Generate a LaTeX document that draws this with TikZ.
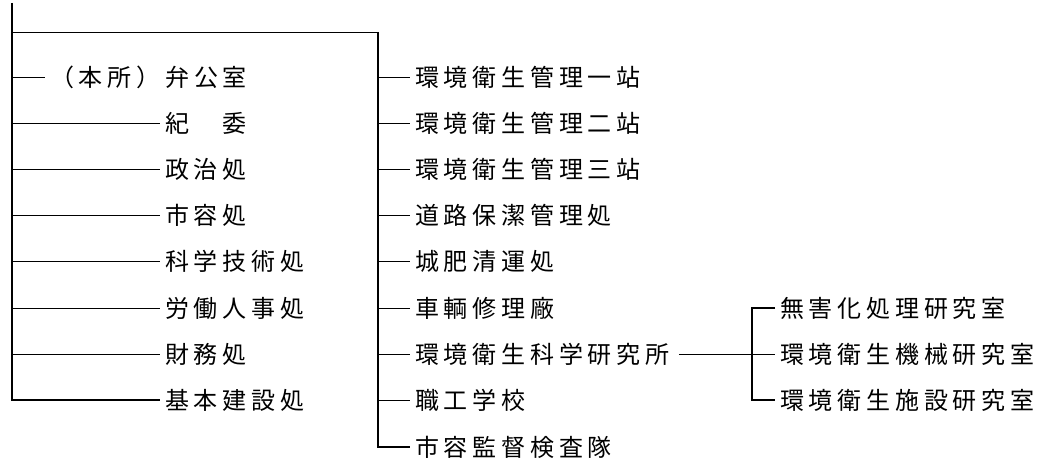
\documentclass[tikz,border=0pt]{standalone}
\usepackage{fontspec}
\newfontfamily\jpfont[LetterSpace=20]{Noto Sans CJK JP}
\usetikzlibrary{positioning}

\begin{document}
\begin{tikzpicture}[
  x=1pt,y=-1pt,
  unit/.style={anchor=west,inner xsep=5pt,inner ysep=0pt,font=\jpfont\fontsize{24}{27}\selectfont},
  bus/.style={line width=1.3pt},
  tick/.style={line width=0.7pt}
]
\useasboundingbox (0,0) rectangle (1054,465);

% bus corners
\coordinate (ltop) at (12,3);
\coordinate (mtop) at (378,32);

% left column
\node[unit] (bangong) at (45,77)  {（本所）弁公室};
\node[unit] (jiwei)   at (160,123) {紀　委};
\node[unit] (zhengzhi) at (160,169) {政治処};
\node[unit] (shirong) at (160,215) {市容処};
\node[unit] (keji)    at (160,261) {科学技術処};
\node[unit] (laodong) at (160,308) {労働人事処};
\node[unit] (caiwu)   at (160,354) {財務処};
\node[unit] (jiben)   at (160,400) {基本建設処};

% middle column
\node[unit] (zhan1)   at (410,77)  {環境衛生管理一站};
\node[unit] (zhan2)   at (410,123) {環境衛生管理二站};
\node[unit] (zhan3)   at (410,169) {環境衛生管理三站};
\node[unit] (daolu)   at (410,215) {道路保潔管理処};
\node[unit] (chengfei) at (410,261) {城肥清運処};
\node[unit] (cheliang) at (410,308) {車輌修理廠};
\node[unit] (kexue)   at (410,354) {環境衛生科学研究所};
\node[unit] (zhigong) at (410,400) {職工学校};
\node[unit] (jiancha) at (410,447) {市容監督検査隊};

% right column
\node[unit] (wuhai)   at (775,308) {無害化処理研究室};
\node[unit] (jixie)   at (775,354) {環境衛生機械研究室};
\node[unit] (shishe)  at (775,400) {環境衛生施設研究室};
\coordinate (rbar) at (752,354);

% left bus and its branches
\draw[bus] (ltop) |- (jiben.west);
\draw[tick] (ltop |- bangong.west) -- (bangong.west);
\draw[tick] (ltop |- jiwei.west) -- (jiwei.west);
\draw[tick] (ltop |- zhengzhi.west) -- (zhengzhi.west);
\draw[tick] (ltop |- shirong.west) -- (shirong.west);
\draw[tick] (ltop |- keji.west) -- (keji.west);
\draw[tick] (ltop |- laodong.west) -- (laodong.west);
\draw[tick] (ltop |- caiwu.west) -- (caiwu.west);

% top link over to the middle bus
\draw[tick] (ltop |- mtop) -- (mtop);
\draw[bus] (mtop) |- (jiancha.west);
\draw[tick] (mtop |- zhan1.west) -- (zhan1.west);
\draw[tick] (mtop |- zhan2.west) -- (zhan2.west);
\draw[tick] (mtop |- zhan3.west) -- (zhan3.west);
\draw[tick] (mtop |- daolu.west) -- (daolu.west);
\draw[tick] (mtop |- chengfei.west) -- (chengfei.west);
\draw[tick] (mtop |- cheliang.west) -- (cheliang.west);
\draw[tick] (mtop |- kexue.west) -- (kexue.west);
\draw[tick] (mtop |- zhigong.west) -- (zhigong.west);

% research institute branches
\draw[tick] ([xshift=4pt]kexue.east) -- (jixie.west);
\draw[bus] (wuhai.west) -| (rbar) |- (shishe.west);

\end{tikzpicture}
\end{document}
